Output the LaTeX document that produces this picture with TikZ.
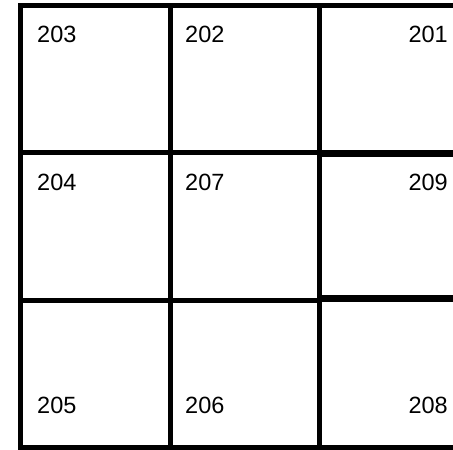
\documentclass[tikz,border=0pt]{standalone}
\usepackage{fontspec}
\setmainfont{Liberation Sans}
\usetikzlibrary{positioning}

\begin{document}
\begin{tikzpicture}[x=1pt, y=-1pt,
    cell/.style={font=\fontsize{23.5}{28}\selectfont, inner sep=0pt}]

\useasboundingbox (0,0) rectangle (453,450);

% outer frame, open on the right
\draw[line width=5pt, line join=miter] (453,5) -- (20,5) -- (20,447) -- (453,447);

% inner lines
\draw[line width=5pt] (170,5) -- (170,447);
\draw[line width=5pt] (319,5) -- (319,447);
\draw[line width=5pt] (20,152) -- (319,152);
\draw[line width=5pt] (20,300) -- (319,300);
\draw[line width=7pt] (319,153) -- (453,153);
\draw[line width=7pt] (319,298) -- (453,298);

% top row
\node[cell, anchor=base west] at (37,42) (c203) {203};
\node[cell, anchor=base west] at (185,42) (c202) {202};
\node[cell, anchor=base east] at (448,42) (c201) {201};

% middle row
\node[cell, anchor=base west] at (37,190) (c204) {204};
\node[cell, anchor=base west] at (185,190) (c207) {207};
\node[cell, anchor=base east] at (448,190) (c209) {209};

% bottom row
\node[cell, anchor=base west] at (37,413) (c205) {205};
\node[cell, anchor=base west] at (185,413) (c206) {206};
\node[cell, anchor=base east] at (448,413) (c208) {208};

\end{tikzpicture}
\end{document}
